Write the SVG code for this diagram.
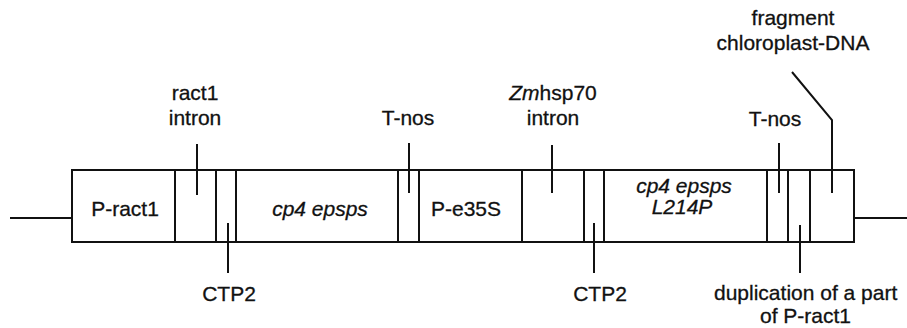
<svg xmlns="http://www.w3.org/2000/svg" width="907" height="328" viewBox="0 0 907 328">
<style>
.t{font-family:"Liberation Sans",Arial,sans-serif;font-size:21px;fill:#111;stroke:#111;stroke-width:0.3;text-anchor:middle}
.s{text-anchor:start}
.i{font-style:italic}
.b{fill:#fff;stroke:#111;stroke-width:2}
.l{fill:none;stroke:#111;stroke-width:2}
</style>
<rect width="907" height="328" fill="#fff"/>
<g id="backbone">
<rect class="b" x="72" y="170" width="782" height="72"/>
</g>
<g id="p-ract1"><line class="l" x1="175" y1="170" x2="175" y2="242"/><text class="t" x="125" y="216">P-ract1</text></g>
<g id="ract1-intron"><line class="l" x1="216" y1="170" x2="216" y2="242"/></g>
<g id="ctp2-a"><line class="l" x1="236" y1="170" x2="236" y2="242"/></g>
<g id="cp4-epsps"><line class="l" x1="398" y1="170" x2="398" y2="242"/><text class="t i" x="320" y="216">cp4 epsps</text></g>
<g id="t-nos-a"><line class="l" x1="419" y1="170" x2="419" y2="242"/></g>
<g id="p-e35s"><line class="l" x1="522" y1="170" x2="522" y2="242"/><text class="t" x="466" y="216">P-e35S</text></g>
<g id="zmhsp70-intron"><line class="l" x1="584" y1="170" x2="584" y2="242"/></g>
<g id="ctp2-b"><line class="l" x1="604" y1="170" x2="604" y2="242"/></g>
<g id="cp4-epsps-l214p"><line class="l" x1="767" y1="170" x2="767" y2="242"/><text class="t i" x="684" y="193">cp4 epsps</text><text class="t i" x="682" y="214">L214P</text></g>
<g id="t-nos-b"><line class="l" x1="788" y1="170" x2="788" y2="242"/></g>
<g id="dup-p-ract1"><line class="l" x1="810" y1="170" x2="810" y2="242"/></g>
<g id="connectors">
<line class="l" x1="10" y1="218" x2="72" y2="218"/>
<line class="l" x1="854" y1="218" x2="907" y2="218"/>
<line class="l" x1="197" y1="144" x2="197" y2="195"/>
<line class="l" x1="409" y1="143" x2="409" y2="193"/>
<line class="l" x1="552" y1="145" x2="552" y2="193"/>
<line class="l" x1="779" y1="143" x2="779" y2="193"/>
<polyline class="l" points="792,72 832,120 832,193"/>
<line class="l" x1="228" y1="223" x2="228" y2="273"/>
<line class="l" x1="594" y1="223" x2="594" y2="273"/>
<line class="l" x1="800" y1="225" x2="800" y2="273"/>
</g>
<g id="labels">
<text class="t" x="195" y="100">ract1</text>
<text class="t" x="195" y="125">intron</text>
<text class="t" x="408" y="125">T-nos</text>
<text class="t" x="553" y="100"><tspan class="i">Zm</tspan>hsp70</text>
<text class="t" x="553" y="125">intron</text>
<text class="t" x="775" y="126">T-nos</text>
<text class="t" x="793" y="25">fragment</text>
<text class="t" x="793" y="50">chloroplast-DNA</text>
<text class="t" x="229" y="301">CTP2</text>
<text class="t" x="600" y="301">CTP2</text>
<text class="t s" x="714" y="300">duplication of a part</text>
<text class="t s" x="760" y="323">of P-ract1</text>
</g>
</svg>
